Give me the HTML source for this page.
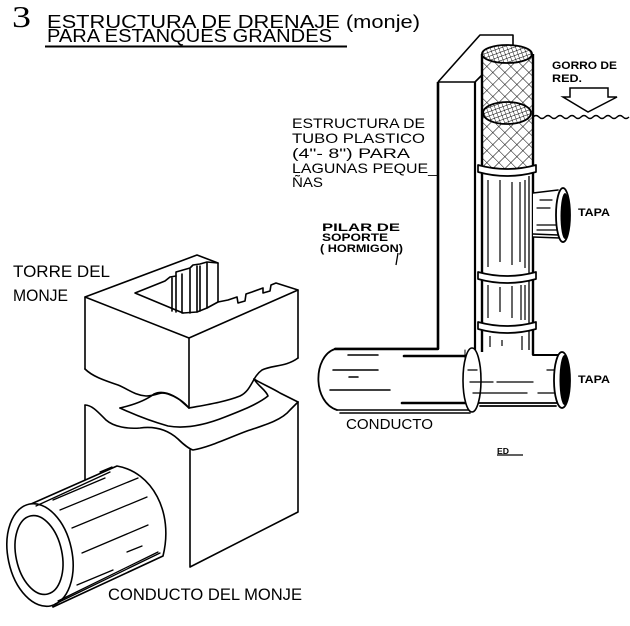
<!DOCTYPE html>
<html><head><meta charset="utf-8">
<style>
html,body{margin:0;padding:0;background:#fff;}
svg{display:block;}
text{font-family:"Liberation Sans",sans-serif;fill:#000;}
</style></head><body>
<svg width="630" height="626" viewBox="0 0 630 626" xmlns="http://www.w3.org/2000/svg">
<defs>
<pattern id="mesh" width="8.5" height="8.5" patternUnits="userSpaceOnUse" patternTransform="rotate(45)">
<rect width="8.5" height="8.5" fill="#fff"/>
<path d="M0,0 H8.5 M0,0 V8.5" stroke="#000" stroke-width="1"/>
</pattern>
<pattern id="fine" width="4" height="4" patternUnits="userSpaceOnUse" patternTransform="rotate(-20)">
<rect width="4" height="4" fill="#fff"/>
<path d="M0,0 H4 M0,0 V4" stroke="#000" stroke-width="0.9"/>
</pattern>
<clipPath id="cyl"><rect x="482" y="54" width="51" height="116"/></clipPath>
</defs>

<!-- Title -->
<text x="12" y="27" style="font-family:'Liberation Serif',serif;font-size:31px" textLength="19" lengthAdjust="spacingAndGlyphs">3</text>
<text x="47" y="28" font-size="18" textLength="373" lengthAdjust="spacingAndGlyphs">ESTRUCTURA DE DRENAJE (monje)</text>
<text x="47" y="42" font-size="18" textLength="285" lengthAdjust="spacingAndGlyphs">PARA ESTANQUES GRANDES</text>
<line x1="45" y1="46.5" x2="347" y2="46.5" stroke="#000" stroke-width="2"/>

<!-- LEFT: Torre del monje -->
<text x="13" y="277" font-size="16.5" textLength="97" lengthAdjust="spacingAndGlyphs">TORRE DEL</text>
<text x="13" y="301" font-size="16.5" textLength="55" lengthAdjust="spacingAndGlyphs">MONJE</text>

<g fill="none" stroke="#000" stroke-width="1.6" stroke-linejoin="round" stroke-linecap="round">
<path d="M85,297 L197,255 L218,263 L218,302 L228,300 L237,297 L238,303 L245,301 L246,294 L252,292 L263,288 L263,293 L270,291 L271,285 L276,283 L298,290 L189,338 Z"/>
<path d="M183,313 L135,293 L165,281 L170,277 L176,276 L176,272 L190,268 L193,265 L200,264 L207,262 L218,263"/>
<path d="M172,278 V311 M176,276 V312 M182,274 V313 M190,269 V313 M197,266 V312 M200,266 V311 M207,263 V308"/>
<path d="M183,313 L197,312 L207,308 L218,302"/>
<path d="M85,297 V369 M189,338 V408 M298,290 V358"/>
<path d="M85,369 C92,376 103,380 118,385 C128,389 134,395 146,396 C156,396 160,391 168,394 C177,397 184,402 189,408"/>
<path d="M189,408 C205,405 225,402 240,396 C252,390 252,377 262,370 C272,365 286,367 298,358"/>
<path d="M85,405 C92,405 98,412 106,420 C114,427 128,429 140,428 C155,426 168,430 178,439 C184,445 190,449 193,450 C210,447 228,438 247,431 C265,425 282,420 290,410 L298,402"/>
<path d="M120,408 C133,405 145,401 154,394 C162,390 172,394 180,400 L189,408"/>
<path d="M120,408 C135,415 150,421 168,426 C185,429 205,425 225,417 C243,410 258,404 268,396 C266,390 258,386 254,379"/>
<path d="M254,379 C262,384 272,388 280,393 L298,402"/>
<path d="M85,405 V485 M190,450 V567 M298,402 V512 M190,567 L298,512"/>
</g>

<!-- left pipe -->
<g stroke="#000" stroke-width="1.6" stroke-linejoin="round">
<path d="M31,504 L117,466 C152,472 174,512 163,556 L53,607 Z" fill="#fff"/>
<ellipse cx="40" cy="555" rx="32" ry="52" transform="rotate(-12 40 555)" fill="#fff"/>
<ellipse cx="39" cy="555" rx="23" ry="40" transform="rotate(-12 39 555)" fill="#fff"/>
</g>
<g stroke="#000" stroke-width="1.3" fill="none" stroke-linecap="round">
<path d="M53,500 L105,478 M60,510 L138,478 M72,528 L147,497 M82,553 L148,525 M127,552 L142,546 M77,585 L113,570"/>
<path d="M36,506 L110,472 M55,604 L160,553 M58,601 L158,552 M100,472 L112,467"/>
</g>
<text x="108" y="600" font-size="17" textLength="194" lengthAdjust="spacingAndGlyphs">CONDUCTO DEL MONJE</text>

<!-- RIGHT: plastic tube structure -->
<g font-size="14">
<text x="292" y="128" textLength="133" lengthAdjust="spacingAndGlyphs">ESTRUCTURA DE</text>
<text x="292" y="143" textLength="133" lengthAdjust="spacingAndGlyphs">TUBO PLASTICO</text>
<text x="292" y="158" textLength="118" lengthAdjust="spacingAndGlyphs">(4"- 8") PARA</text>
<text x="292" y="173" textLength="145" lengthAdjust="spacingAndGlyphs">LAGUNAS PEQUE_</text>
<text x="292" y="187" textLength="31" lengthAdjust="spacingAndGlyphs">ÑAS</text>
</g>
<g font-size="11" font-weight="bold">
<text x="322" y="231" textLength="78" lengthAdjust="spacingAndGlyphs">PILAR DE</text>
<text x="322" y="241" textLength="66" lengthAdjust="spacingAndGlyphs">SOPORTE</text>
<text x="320" y="252" textLength="83" lengthAdjust="spacingAndGlyphs">( HORMIGON)</text>
<text x="552" y="69" textLength="65" lengthAdjust="spacingAndGlyphs">GORRO DE</text>
<text x="552" y="82" textLength="30" lengthAdjust="spacingAndGlyphs">RED.</text>
<text x="578" y="216" textLength="32" lengthAdjust="spacingAndGlyphs">TAPA</text>
<text x="578" y="383" textLength="32" lengthAdjust="spacingAndGlyphs">TAPA</text>
</g>
<path d="M398,253 L396,265" stroke="#000" stroke-width="1.3"/>

<!-- arrow & water -->
<path d="M570,88 H608 V97 H617 L588,112 L563,97 H570 Z" fill="#fff" stroke="#000" stroke-width="1.5"/>
<path d="M533,117 q3,-3 6,0 t6,0 t6,0 t6,0 t6,0 t6,0 t6,0 t6,0 t6,0 t6,0 t6,0 t6,0 t6,0 t6,0 t6,0 t6,0" fill="none" stroke="#000" stroke-width="1.4"/>

<!-- pillar -->
<g fill="none" stroke="#000" stroke-linejoin="round">
<path d="M438,82 L480,35 L513,35 L513,46" stroke-width="1.6"/>
<path d="M438,82 H475 L482,75" stroke-width="1.6"/>
<path d="M438,82 V349 H335" stroke-width="2.6"/>
<path d="M475,82 V352" stroke-width="2.2"/>
</g>

<!-- conducto (right) -->
<g stroke="#000" stroke-linejoin="round" stroke-linecap="round">
<path d="M335,349 H470 L470,410 H337 C312,402 313,356 335,349 Z" fill="#fff" stroke="none"/>
<path d="M335,349 C313,356 312,402 337,410" fill="none" stroke-width="1.8"/>
<path d="M337,410 H470 M340,413 H470" fill="none" stroke-width="1.6"/>
<path d="M335,349 H438" fill="none" stroke-width="2.4"/>
<path d="M404,356 H466 M402,403 H468" fill="none" stroke-width="2.6"/>
<path d="M333,370 H378 M349,377 H358 M330,390 H390 M348,355 H378" fill="none" stroke-width="1.5"/>
</g>

<!-- vertical pipe -->
<g stroke="#000" stroke-linejoin="round">
<rect x="482" y="54" width="51" height="300" fill="#fff" stroke="none"/>
<rect x="482" y="54" width="51" height="116" fill="url(#mesh)" stroke="none" clip-path="url(#cyl)"/>
<path d="M482,54 V352 M533,54 V355" fill="none" stroke-width="2.4"/>
<path d="M529,176 V350" fill="none" stroke-width="1.3"/>
<ellipse cx="507" cy="54" rx="25" ry="9" fill="url(#fine)" stroke-width="1.8"/>
<ellipse cx="507" cy="113" rx="24" ry="11" fill="url(#fine)" stroke-width="1.8"/>
<path d="M488,180 V267 M500,180 V262 M512,182 V265 M520,182 V262 M525,180 V268 M488,285 V318 M500,287 V312 M512,286 V318 M521,285 V320 M525,285 V320 M490,336 V347 M502,340 V346 M522,336 V350" fill="none" stroke-width="1.2"/>
<path d="M478,165 Q507,173 536,165 L536,172 Q507,180 478,172 Z" fill="#fff" stroke-width="1.7"/>
<path d="M478,272 Q507,280 536,272 L536,279 Q507,287 478,279 Z" fill="#fff" stroke-width="1.7"/>
<path d="M478,322 Q507,330 536,322 L536,329 Q507,337 478,329 Z" fill="#fff" stroke-width="1.7"/>
</g>

<!-- elbow -->
<g stroke="#000" stroke-linejoin="round" stroke-linecap="round">
<path d="M478,355 H560 V403 H478 Z" fill="#fff" stroke="none"/>
<path d="M533,355 H558" fill="none" stroke-width="2"/>
<path d="M478,403 H560 M480,406 H556" fill="none" stroke-width="1.8"/>
<ellipse cx="472" cy="380" rx="9" ry="32" fill="#fff" stroke-width="1.6"/>
<path d="M465,360 V350" fill="none" stroke-width="1"/>
<path d="M468,370 H477 M470,382 H493 M497,382 H533 M547,370 H557 M473,393 H527 M538,393 H556" fill="none" stroke-width="1.3"/>
<ellipse cx="562" cy="380" rx="8" ry="28" fill="#fff" stroke-width="1.8"/>
<ellipse cx="564.5" cy="380" rx="5" ry="25" fill="#000" stroke="none"/>
</g>

<!-- upper tapa -->
<g stroke="#000" stroke-linejoin="round" stroke-linecap="round">
<path d="M533,193 L558,190 L560,238 L533,237 Z" fill="#fff" stroke="none"/>
<path d="M533,193 L558,190 M533,237 L560,238 M533,234 L558,235" fill="none" stroke-width="1.6"/>
<path d="M540,200 H552 M537,208 H550 M537,225 H556 M537,230 H558" fill="none" stroke-width="1.2"/>
<ellipse cx="563" cy="215" rx="7" ry="27" fill="#fff" stroke-width="1.8"/>
<ellipse cx="565" cy="216" rx="4.5" ry="23" fill="#000" stroke="none"/>
</g>

<text x="346" y="429" font-size="15" textLength="87" lengthAdjust="spacingAndGlyphs">CONDUCTO</text>
<text x="497" y="454" font-size="8" font-weight="bold" textLength="12" lengthAdjust="spacingAndGlyphs">ED</text>
<line x1="497" y1="455" x2="523" y2="455" stroke="#000" stroke-width="1.2"/>
</svg>
</body></html>
